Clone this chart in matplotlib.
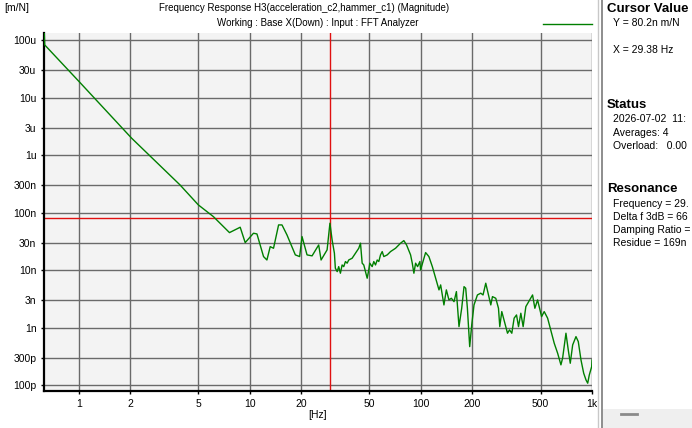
import matplotlib.pyplot as plt
from matplotlib.lines import Line2D
from matplotlib.patches import Rectangle

# frequency response
freq = [0.626, 0.632, 1.004, 2.036, 3.906, 5.00, 6.12, 7.60, 8.78, 9.39,
        10.50, 11.0, 12.02, 12.58, 13.15, 13.75, 14.72, 15.41, 16.48, 18.44,
        19.54, 20.18, 21.59, 23.10, 25.25, 26.08, 28.28, 29.38, 30.25, 31.2,
        31.6, 32.4, 33.06, 33.83, 34.61, 35.38, 36.20, 37.04, 37.84, 39.61,
        41.42, 43.31, 44.32, 45.34, 46.33, 47.40, 48.50, 49.56, 50.23, 51.88,
        53.02, 54.25, 55.51, 56.72, 58.04, 59.38, 60.68, 63.53, 66.41, 71.05,
        76.02, 79.46, 82.41, 87.00, 88.99, 90.96, 93.06, 95.60, 98.60, 99.54,
        106.5, 111.3, 116.6, 121.9, 127.5, 130.4, 136.3, 140.8, 145.8, 150.6,
        156.1, 161.2, 166.9, 173.1, 178.6, 182.7, 186.9, 192.8, 198.1, 204.3,
        213.9, 223.7, 230.7, 239.3, 248.1, 256.1, 261.9, 273.8, 284.0, 289.0,
        296.9, 313.4, 320.7, 329.5, 339.8, 350.6, 362.1, 371.9, 383.7, 395.8,
        410.5, 449.3, 463.5, 480.7, 507.3, 525.5, 550.2, 580.6, 601.4, 629.6,
        658.3, 673.6, 704.3, 726.5, 746.3, 770.9, 806.0, 831.4, 862.2, 894.2,
        922.4, 943.8, 964.2, 995.9, 1000.0]
mag = [1.83e-4, 8.25e-5, 1.90e-5, 1.97e-6, 3.03e-7, 1.36e-7, 8.52e-8, 4.49e-8, 5.57e-8, 3.01e-8,
       4.38e-8, 4.26e-8, 1.72e-8, 1.50e-8, 2.56e-8, 2.40e-8, 6.11e-8, 6.11e-8, 4.09e-8, 1.84e-8,
       1.72e-8, 3.83e-8, 1.84e-8, 1.77e-8, 2.74e-8, 1.50e-8, 2.25e-8, 6.54e-8, 3.35e-8, 1.97e-8,
       1.08e-8, 9.42e-9, 1.15e-8, 8.83e-9, 1.23e-8, 1.15e-8, 1.41e-8, 1.32e-8, 1.50e-8, 1.61e-8,
       1.97e-8, 2.40e-8, 2.94e-8, 1.32e-8, 1.23e-8, 9.42e-9, 7.23e-9, 1.01e-8, 1.32e-8, 1.15e-8,
       1.41e-8, 1.23e-8, 1.50e-8, 1.41e-8, 1.84e-8, 2.10e-8, 1.72e-8, 1.84e-8, 2.10e-8, 2.40e-8,
       2.94e-8, 3.26e-8, 2.74e-8, 1.84e-8, 1.32e-8, 8.83e-9, 1.32e-8, 1.15e-8, 1.41e-8, 1.01e-8,
       2.02e-8, 1.72e-8, 1.15e-8, 7.23e-9, 4.53e-9, 5.53e-9, 2.48e-9, 4.53e-9, 3.03e-9, 3.24e-9,
       2.83e-9, 4.23e-9, 1.04e-9, 2.17e-9, 5.16e-9, 4.84e-9, 2.17e-9, 4.67e-10, 1.11e-9, 2.48e-9,
       3.70e-9, 3.97e-9, 3.70e-9, 5.92e-9, 3.70e-9, 2.48e-9, 3.46e-9, 3.24e-9, 2.17e-9, 1.04e-9,
       1.90e-9, 1.04e-9, 7.99e-10, 9.12e-10, 7.99e-10, 1.46e-9, 1.66e-9, 1.04e-9, 1.78e-9, 1.04e-9,
       2.32e-9, 3.70e-9, 2.17e-9, 3.03e-9, 1.55e-9, 1.90e-9, 1.46e-9, 7.99e-10, 5.35e-10, 3.59e-10,
       2.25e-10, 2.97e-10, 7.99e-10, 4.09e-10, 2.40e-10, 5.00e-10, 6.97e-10, 5.71e-10, 2.74e-10, 1.61e-10,
       1.23e-10, 1.08e-10, 1.50e-10, 2.10e-10, 2.74e-10]

cursor_x = 29.38
cursor_y = 80.2e-9

xticks = [1, 2, 5, 10, 20, 50, 100, 200, 500, 1000]
xlabels = ["1", "2", "5", "10", "20", "50", "100", "200", "500", "1k"]
yticks = [1e-4, 3e-5, 1e-5, 3e-6, 1e-6, 3e-7, 1e-7, 3e-8, 1e-8, 3e-9, 1e-9, 3e-10, 1e-10]
ylabels = ["100u", "30u", "10u", "3u", "1u", "300n", "100n", "30n", "10n", "3n", "1n", "300p", "100p"]

plt.rcParams['font.family'] = ['Liberation Sans', 'DejaVu Sans']
W, H = 692, 428
fig = plt.figure(figsize=(W / 100, H / 100), dpi=100)

def fx(px):
    return px / W

def fy(py):
    return 1 - py / H

ax = fig.add_axes([fx(44), fy(391), (592 - 44) / W, (391 - 33) / H])
ax.set_facecolor('#f3f3f3')
ax.set_xscale('log')
ax.set_yscale('log')
ax.set_xlim(0.626, 1000)
ax.set_ylim(7.9e-11, 1.33e-4)
ax.set_xticks(xticks)
ax.set_xticklabels(xlabels)
ax.set_yticks(yticks)
ax.set_yticklabels(ylabels)
ax.minorticks_off()
ax.grid(True, color='#6a6a6a', linewidth=1.0)
ax.set_axisbelow(True)
ax.tick_params(labelsize=7.5, length=2.5, width=1, pad=3)
for s in ['top', 'right']:
    ax.spines[s].set_visible(False)
for s in ['left', 'bottom']:
    ax.spines[s].set_linewidth(1.6)

ax.plot(freq, mag, color='#007f00', linewidth=1.0, clip_on=True, zorder=3)
ax.axvline(cursor_x, color='#e01010', linewidth=1.0, zorder=2)
ax.axhline(cursor_y, color='#e01010', linewidth=1.0, zorder=2)

fig.text(fx(4), fy(8), "[m/N]", fontsize=7.5, va='center', ha='left')
fig.text(fx(304), fy(8), "Frequency Response H3(acceleration_c2,hammer_c1) (Magnitude)",
         fontsize=7.0, va='center', ha='center')
fig.text(fx(318), fy(23), "Working : Base X(Down) : Input : FFT Analyzer",
         fontsize=7.0, va='center', ha='center')
fig.text(fx(318), fy(415), "[Hz]", fontsize=7.5, va='center', ha='center')
fig.add_artist(Line2D([fx(543), fx(592)], [fy(24), fy(24)], color='#007f00', linewidth=1.0))

# right side panel (text is cut by the window edge in the original)
fig.add_artist(Line2D([fx(597.5), fx(597.5)], [0, 1], color='#c8c8c8', linewidth=1.0))
fig.add_artist(Line2D([fx(601.5), fx(601.5)], [0, 1], color='#7a7a7a', linewidth=1.2))
fig.add_artist(Rectangle((fx(603), 0), 1, (428 - 409) / H, transform=fig.transFigure,
                         facecolor='#efefef', edgecolor='none'))
fig.add_artist(Line2D([fx(621), fx(637)], [fy(414), fy(414)], color='#8a8a8a', linewidth=2))

fig.text(fx(607), fy(9), "Cursor Value", fontsize=9.5, fontweight='bold', va='center')
fig.text(fx(613), fy(23), "Y = 80.2n m/N", fontsize=7.5, va='center')
fig.text(fx(613), fy(50), "X = 29.38 Hz", fontsize=7.5, va='center')
fig.text(fx(607), fy(105), "Status", fontsize=9.5, fontweight='bold', va='center')
fig.text(fx(613), fy(119), "2026-07-02  11:", fontsize=7.5, va='center')
fig.text(fx(613), fy(133), "Averages: 4", fontsize=7.5, va='center')
fig.text(fx(613), fy(146), "Overload:   0.00", fontsize=7.5, va='center')
fig.text(fx(607), fy(189), "Resonance", fontsize=9.5, fontweight='bold', va='center')
fig.text(fx(613), fy(204), "Frequency = 29.", fontsize=7.5, va='center')
fig.text(fx(613), fy(217), "Delta f 3dB = 66", fontsize=7.5, va='center')
fig.text(fx(613), fy(230), "Damping Ratio =", fontsize=7.5, va='center')
fig.text(fx(613), fy(243), "Residue = 169n", fontsize=7.5, va='center')

fig.savefig("out.png", dpi=100)
